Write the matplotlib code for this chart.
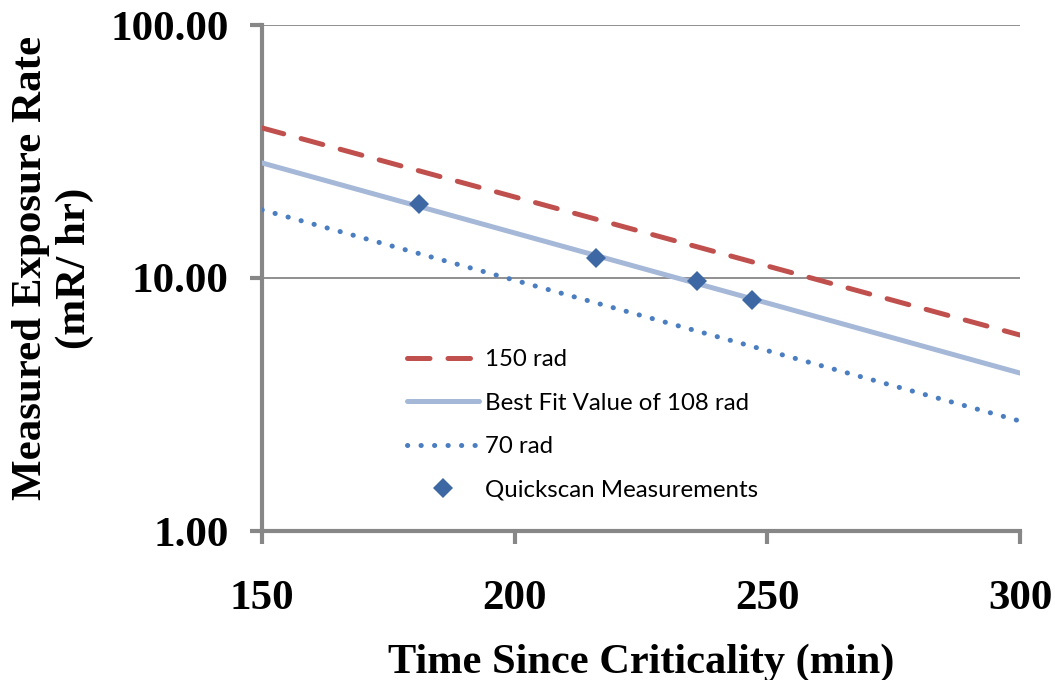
import matplotlib
matplotlib.use("Agg")
import matplotlib.pyplot as plt
from matplotlib.ticker import FixedLocator, NullLocator, FixedFormatter

# Data
time_ends = [150, 300]
rate_150rad = [39.2, 5.95]
rate_bestfit = [28.5, 4.21]
rate_70rad = [18.6, 2.72]
meas_time = [181, 216, 236, 247]
meas_rate = [19.7, 12.0, 9.7, 8.2]
x_ticks = [150, 200, 250, 300]
y_ticks = [1, 10, 100]
y_tick_labels = ["1.00", "10.00", "100.00"]

fig = plt.figure(figsize=(10.55, 6.8), dpi=100)
ax = fig.add_axes([262/1055, 1-531/680, (1020-262)/1055, (531-25)/680])

gray = "#878787"
ax.set_yscale("log")
ax.set_xlim(150, 300)
ax.set_ylim(1, 100)

ax.plot(time_ends, rate_150rad, color="#C0504D", lw=3.6, linestyle=(0, (4.5, 3.6)),
        label="150 rad", solid_capstyle="round", dash_capstyle="round", zorder=3)
ax.plot(time_ends, rate_bestfit, color="#A5B8D8", lw=3.6, label="Best Fit Value of 108 rad",
        solid_capstyle="round", zorder=3)
ax.plot(time_ends, rate_70rad, color="#4A7EC0", lw=3.6, linestyle=(0, (0.05, 2.65)),
        dash_capstyle="round", label="70 rad", zorder=3)
ax.plot(meas_time, meas_rate, linestyle="none", marker="D", ms=10.5, color="#3D68A3",
        markeredgewidth=0, label="Quickscan Measurements", zorder=4)

ax.yaxis.set_major_locator(FixedLocator(y_ticks))
ax.yaxis.set_major_formatter(FixedFormatter(y_tick_labels))
ax.yaxis.set_minor_locator(NullLocator())
ax.set_xticks(x_ticks)

for s in ["top", "right"]:
    ax.spines[s].set_visible(False)
for s in ["left", "bottom"]:
    ax.spines[s].set_color(gray)
    ax.spines[s].set_linewidth(3.0)

ax.grid(axis="y", which="major", color=gray, lw=1.3)
ax.set_axisbelow(True)

ax.tick_params(axis="both", which="major", direction="out", length=9, width=3.0, color=gray,
               labelsize=31)
ax.tick_params(axis="y", pad=15)
ax.tick_params(axis="x", pad=26)
for lab in ax.get_xticklabels() + ax.get_yticklabels():
    lab.set_fontfamily("Liberation Serif")
    lab.set_fontweight("bold")

fig.text(641/1055, 1-673/680, "Time Since Criticality (min)", ha="center", va="baseline",
         fontfamily="Liberation Serif", fontweight="bold", fontsize=30.5)
fig.text(53/1055, 1-268/680, "Measured Exposure Rate\n(mR/ hr)", rotation=90,
         ha="center", va="center", multialignment="center", linespacing=1.19,
         fontfamily="Liberation Serif", fontweight="bold", fontsize=31)

leg = ax.legend(loc="upper left", bbox_to_anchor=(0.1916, 0.359), frameon=False,
                prop={"family": "Lato", "size": 17.3}, handlelength=3.0, labelspacing=0.93,
                handletextpad=0.25, borderaxespad=0, borderpad=0)

fig.savefig("out.png", dpi=100)
